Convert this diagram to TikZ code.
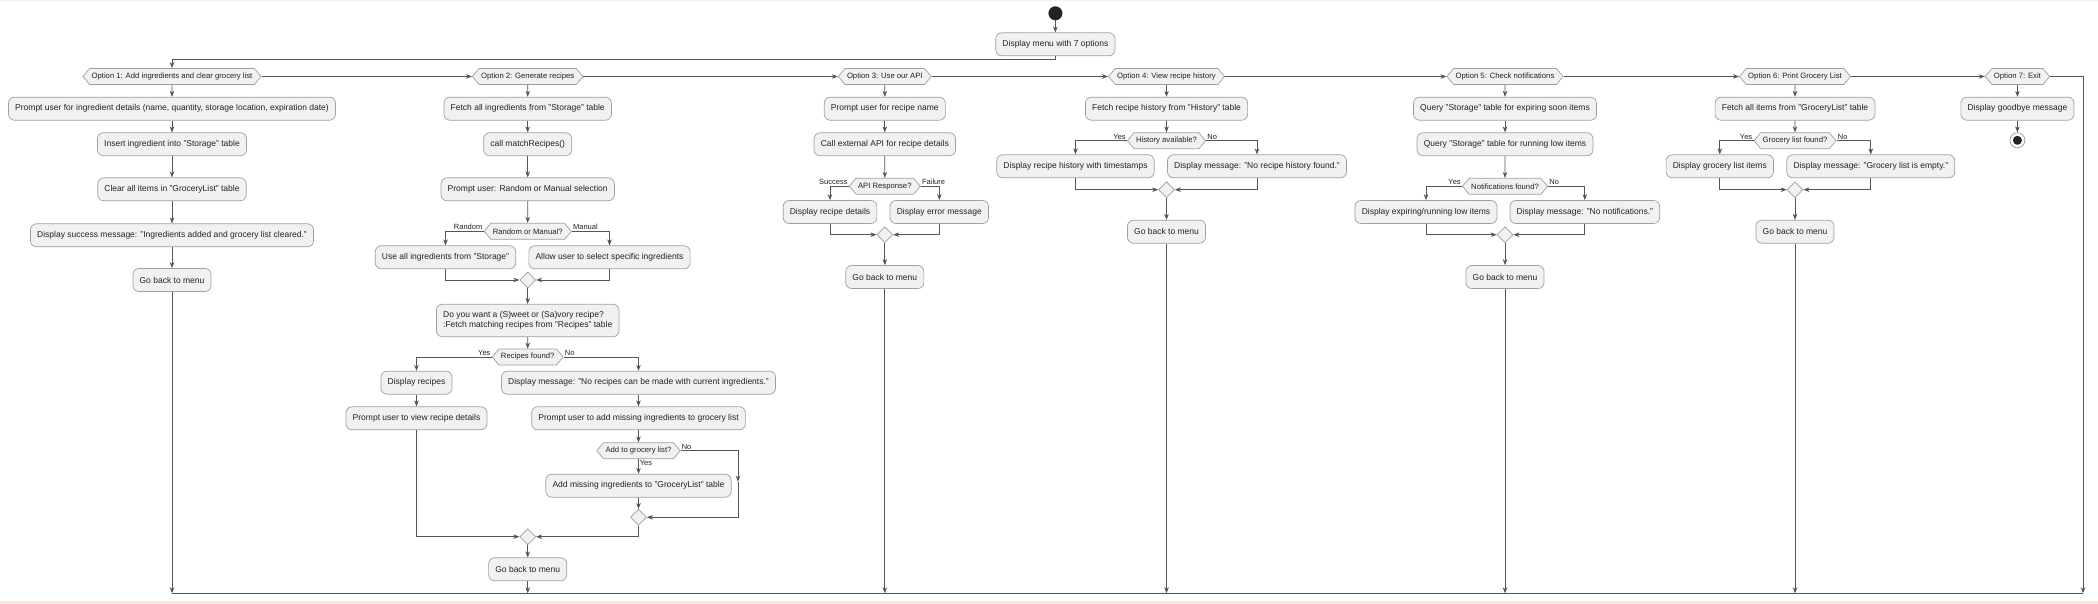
\documentclass[tikz,border=0pt]{standalone}
\usepackage{fontspec}
\setmainfont{Liberation Sans}
\usetikzlibrary{shapes.geometric,shapes.symbols,arrows.meta}
\definecolor{boxfill}{HTML}{F1F1F1}
\definecolor{boxline}{HTML}{A0A0A0}
\definecolor{lnc}{HTML}{555555}
\definecolor{dark}{HTML}{222222}
\definecolor{topband}{HTML}{F4EFEB}
\definecolor{botband}{HTML}{F7E6E1}
\tikzset{
  act/.style={draw=boxline, fill=boxfill, line width=0.7pt, rounded corners=6pt, minimum height=23pt, inner xsep=6.7pt, inner ysep=0pt, font=\fontsize{8.5}{10}\selectfont, text=dark},
  hexa/.style={signal, signal to=west and east, signal pointer angle=100, draw=boxline, fill=boxfill, line width=0.7pt, minimum height=16pt, inner xsep=2pt, inner ysep=0pt, font=\fontsize{7.7}{9}\selectfont, text=dark},
  merge/.style={diamond, draw=boxline, fill=boxfill, line width=0.7pt, minimum width=16pt, minimum height=16pt, inner sep=0pt},
  lbl/.style={font=\fontsize{7.5}{9}\selectfont, inner sep=1pt, text=dark},
  flow/.style={draw=lnc, line width=0.7pt},
  arr/.style={flow, -{Stealth[length=6pt,width=4.5pt,inset=1.8pt]}},
}
\begin{document}
\begin{tikzpicture}[x=1pt,y=-1pt]
\useasboundingbox (0,0) rectangle (2098,604);
\fill[white] (0,0) rectangle (2098,604);
\fill[topband] (0,0) rectangle (2098,1.5);
\fill[botband] (0,600.7) rectangle (2098,604);

% start and menu
\node[circle, fill=dark, minimum size=14pt, inner sep=0pt] (start) at (1055.4,13.3) {};
\node[act] (menu) at (1055.4,44.3) {Display menu with 7 options};

% options
\node[hexa] (opt1) at (172,76.5) {Option 1: Add ingredients and clear grocery list};
\node[hexa] (opt2) at (527.7,76.5) {Option 2: Generate recipes};
\node[hexa] (opt3) at (884.8,76.5) {Option 3: Use our API};
\node[hexa] (opt4) at (1166.5,76.5) {Option 4: View recipe history};
\node[hexa] (opt5) at (1505,76.5) {Option 5: Check notifications};
\node[hexa] (opt6) at (1795,76.5) {Option 6: Print Grocery List};
\node[hexa] (opt7) at (2017.4,76.5) {Option 7: Exit};

% column 1
\node[act] (c1a) at (172,108.7) {Prompt user for ingredient details (name, quantity, storage location, expiration date)};
\node[act] (c1b) at (172,144.3) {Insert ingredient into "Storage" table};
\node[act] (c1c) at (172,189.3) {Clear all items in "GroceryList" table};
\node[act] (c1d) at (172,235.3) {Display success message: "Ingredients added and grocery list cleared."};
\node[act] (c1e) at (172,280) {Go back to menu};

% column 2
\node[act] (c2a) at (527.7,108.7) {Fetch all ingredients from "Storage" table};
\node[act] (c2b) at (527.7,144.3) {call matchRecipes()};
\node[act] (c2c) at (527.7,189.3) {Prompt user: Random or Manual selection};
\node[hexa] (c2rm) at (527.7,231.3) {Random or Manual?};
\node[act] (c2r) at (445.5,257.3) {Use all ingredients from "Storage"};
\node[act] (c2m) at (609.5,257.3) {Allow user to select specific ingredients};
\node[merge] (c2d1) at (527.7,280) {};
\node[act, align=left, minimum height=32.5pt] (c2s) at (527.7,320.5) {Do you want a (S)weet or (Sa)vory recipe?\\:Fetch matching recipes from "Recipes" table};
\node[hexa] (c2rf) at (527.7,357) {Recipes found?};
\node[act] (c2y1) at (416.5,382.7) {Display recipes};
\node[act] (c2y2) at (416.5,418.3) {Prompt user to view recipe details};
\node[act] (c2n1) at (638.5,382.7) {Display message: "No recipes can be made with current ingredients."};
\node[act] (c2n2) at (638.5,418.3) {Prompt user to add missing ingredients to grocery list};
\node[hexa] (c2ag) at (638.5,450.7) {Add to grocery list?};
\node[act] (c2n3) at (638.5,485.7) {Add missing ingredients to "GroceryList" table};
\node[merge] (c2d2) at (638.5,517.3) {};
\node[merge] (c2d3) at (527.7,536.7) {};
\node[act] (c2e) at (527.7,569.3) {Go back to menu};

% column 3
\node[act] (c3a) at (884.8,108.7) {Prompt user for recipe name};
\node[act] (c3b) at (884.8,144.3) {Call external API for recipe details};
\node[hexa] (c3h) at (884.8,186.3) {API Response?};
\node[act] (c3s) at (830,212) {Display recipe details};
\node[act] (c3f) at (939.3,212) {Display error message};
\node[merge] (c3d) at (884.8,234.7) {};
\node[act] (c3e) at (884.8,277) {Go back to menu};

% column 4
\node[act] (c4a) at (1166.5,108.7) {Fetch recipe history from "History" table};
\node[hexa] (c4h) at (1166.5,140.7) {History available?};
\node[act] (c4y) at (1075.5,166.3) {Display recipe history with timestamps};
\node[act] (c4n) at (1257,166.3) {Display message: "No recipe history found."};
\node[merge] (c4d) at (1166.5,189.7) {};
\node[act] (c4e) at (1166.5,231.7) {Go back to menu};

% column 5
\node[act] (c5a) at (1505,108.7) {Query "Storage" table for expiring soon items};
\node[act] (c5b) at (1505,144.3) {Query "Storage" table for running low items};
\node[hexa] (c5h) at (1505,186.3) {Notifications found?};
\node[act] (c5y) at (1426,212) {Display expiring/running low items};
\node[act] (c5n) at (1584.8,212) {Display message: "No notifications."};
\node[merge] (c5d) at (1505,234.7) {};
\node[act] (c5e) at (1505,277) {Go back to menu};

% column 6
\node[act] (c6a) at (1795,108.7) {Fetch all items from "GroceryList" table};
\node[hexa] (c6h) at (1795,140.7) {Grocery list found?};
\node[act] (c6y) at (1719.8,166.3) {Display grocery list items};
\node[act] (c6n) at (1870.8,166.3) {Display message: "Grocery list is empty."};
\node[merge] (c6d) at (1795,189.7) {};
\node[act] (c6e) at (1795,231.7) {Go back to menu};

% column 7
\node[act] (c7a) at (2017.4,108.7) {Display goodbye message};
\node[circle, draw=boxline, fill=white, line width=0.8pt, minimum size=15pt, inner sep=0pt] (fin) at (2017.4,140.3) {};
\node[circle, fill=dark, minimum size=9pt, inner sep=0pt] (finin) at (fin.center) {};

% coordinates
\coordinate (j0) at (1055.4,59);
\coordinate (r7) at (2083,76.5);
\coordinate (b1) at (172,593.3);
\coordinate (b2) at (527.7,593.3);
\coordinate (b3) at (884.8,593.3);
\coordinate (b4) at (1166.5,593.3);
\coordinate (b5) at (1505,593.3);
\coordinate (b6) at (1795,593.3);
\coordinate (b7) at (2083,593.3);
\coordinate (agr) at (738,450.7);
\coordinate (agm) at (738,481.7);

% top connectors
\draw[arr] (start) -- (menu);
\draw[arr] (menu.south) -- (j0) -| (opt1.north);
\draw[arr] (opt1.east) -- (opt2.west);
\draw[arr] (opt2.east) -- (opt3.west);
\draw[arr] (opt3.east) -- (opt4.west);
\draw[arr] (opt4.east) -- (opt5.west);
\draw[arr] (opt5.east) -- (opt6.west);
\draw[arr] (opt6.east) -- (opt7.west);
\draw[arr] (opt7.east) -- (r7) -- (b7);
\draw[flow] (b1) -- (b7);

% column 1
\draw[arr] (opt1) -- (c1a);
\draw[arr] (c1a) -- (c1b);
\draw[arr] (c1b) -- (c1c);
\draw[arr] (c1c) -- (c1d);
\draw[arr] (c1d) -- (c1e);
\draw[arr] (c1e) -- (b1);

% column 2
\draw[arr] (opt2) -- (c2a);
\draw[arr] (c2a) -- (c2b);
\draw[arr] (c2b) -- (c2c);
\draw[arr] (c2c) -- (c2rm);
\draw[arr] (c2rm.west) -| (c2r.north) node[lbl, pos=0, anchor=south east] {Random};
\draw[arr] (c2rm.east) -| (c2m.north) node[lbl, pos=0, anchor=south west] {Manual};
\draw[arr] (c2r.south) |- (c2d1.west);
\draw[arr] (c2m.south) |- (c2d1.east);
\draw[arr] (c2d1) -- (c2s);
\draw[arr] (c2s) -- (c2rf);
\draw[arr] (c2rf.west) -| (c2y1.north) node[lbl, pos=0, anchor=south east] {Yes};
\draw[arr] (c2rf.east) -| (c2n1.north) node[lbl, pos=0, anchor=south west] {No};
\draw[arr] (c2y1) -- (c2y2);
\draw[arr] (c2y2.south) |- (c2d3.west);
\draw[arr] (c2n1) -- (c2n2);
\draw[arr] (c2n2) -- (c2ag);
\draw[arr] (c2ag) -- (c2n3) node[lbl, pos=0, anchor=north west] {Yes};
\draw[arr] (c2ag.east) -- (agr) -- (agm);
\node[lbl, anchor=south west] at (c2ag.east) {No};
\draw[arr] (agm) |- (c2d2.east);
\draw[arr] (c2n3) -- (c2d2);
\draw[arr] (c2d2.south) |- (c2d3.east);
\draw[arr] (c2d3) -- (c2e);
\draw[arr] (c2e) -- (b2);

% column 3
\draw[arr] (opt3) -- (c3a);
\draw[arr] (c3a) -- (c3b);
\draw[arr] (c3b) -- (c3h);
\draw[arr] (c3h.west) -| (c3s.north) node[lbl, pos=0, anchor=south east] {Success};
\draw[arr] (c3h.east) -| (c3f.north) node[lbl, pos=0, anchor=south west] {Failure};
\draw[arr] (c3s.south) |- (c3d.west);
\draw[arr] (c3f.south) |- (c3d.east);
\draw[arr] (c3d) -- (c3e);
\draw[arr] (c3e) -- (b3);

% column 4
\draw[arr] (opt4) -- (c4a);
\draw[arr] (c4a) -- (c4h);
\draw[arr] (c4h.west) -| (c4y.north) node[lbl, pos=0, anchor=south east] {Yes};
\draw[arr] (c4h.east) -| (c4n.north) node[lbl, pos=0, anchor=south west] {No};
\draw[arr] (c4y.south) |- (c4d.west);
\draw[arr] (c4n.south) |- (c4d.east);
\draw[arr] (c4d) -- (c4e);
\draw[arr] (c4e) -- (b4);

% column 5
\draw[arr] (opt5) -- (c5a);
\draw[arr] (c5a) -- (c5b);
\draw[arr] (c5b) -- (c5h);
\draw[arr] (c5h.west) -| (c5y.north) node[lbl, pos=0, anchor=south east] {Yes};
\draw[arr] (c5h.east) -| (c5n.north) node[lbl, pos=0, anchor=south west] {No};
\draw[arr] (c5y.south) |- (c5d.west);
\draw[arr] (c5n.south) |- (c5d.east);
\draw[arr] (c5d) -- (c5e);
\draw[arr] (c5e) -- (b5);

% column 6
\draw[arr] (opt6) -- (c6a);
\draw[arr] (c6a) -- (c6h);
\draw[arr] (c6h.west) -| (c6y.north) node[lbl, pos=0, anchor=south east] {Yes};
\draw[arr] (c6h.east) -| (c6n.north) node[lbl, pos=0, anchor=south west] {No};
\draw[arr] (c6y.south) |- (c6d.west);
\draw[arr] (c6n.south) |- (c6d.east);
\draw[arr] (c6d) -- (c6e);
\draw[arr] (c6e) -- (b6);

% column 7
\draw[arr] (opt7) -- (c7a);
\draw[arr] (c7a) -- (fin);
\end{tikzpicture}
\end{document}
